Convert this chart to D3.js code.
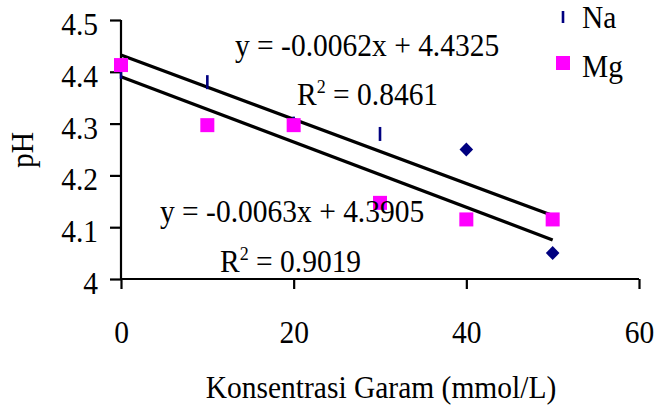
<!DOCTYPE html>
<html>
<head>
<meta charset="utf-8">
<script src="https://cdn.jsdelivr.net/npm/d3@7"></script>
<style>
  html, body { margin: 0; padding: 0; background: #fff; }
  svg { display: block; font-family: "Liberation Serif", "Times New Roman", serif; }
</style>
</head>
<body>
<svg id="chart" width="656" height="410"></svg>
<script>
// ---- data ----
const concentrations = [0, 10, 20, 30, 40, 50];
const naValues = [4.40, 4.38, 4.30, 4.28, 4.25, 4.05];
const mgValues = [4.413, 4.297, 4.297, 4.147, 4.115, 4.115];
const seriesNames = ["Na", "Mg"];
const xTicks = [0, 20, 40, 60];
const yTicks = [4.0, 4.1, 4.2, 4.3, 4.4, 4.5];
const yTickLabels = ["4", "4.1", "4.2", "4.3", "4.4", "4.5"];
const naTrend = { slope: -0.0062, intercept: 4.4325, r2: "0.8461" };
const mgTrend = { slope: -0.0063, intercept: 4.3905, r2: "0.9019" };
const trendRange = [0, 50];

// marker style per Na point (as rendered in the reference)
const naShape = ["bar", "bar", "bar", "bar", "diamond", "diamond"];

const FS = 29.5;
const SY = 1.08;           // vertical stretch of the reference's text
const FONT = '"Liberation Serif", "Times New Roman", serif';
const svg = d3.select("#chart");
const x = d3.scaleLinear().domain([0, 60]).range([121, 639]);
const y = d3.scaleLinear().domain([4, 4.5]).range([279, 20]);

function addText(parent, tx, ty, str, anchor, rot) {
  return parent.append("text")
    .attr("transform", `translate(${tx},${ty})${rot ? ` rotate(${rot})` : ""} scale(1,${SY})`)
    .attr("text-anchor", anchor || "start")
    .attr("font-size", FS).attr("font-family", FONT).attr("fill", "#000")
    .text(str);
}

// axes
const yAxis = d3.axisLeft(y).tickValues(yTicks).tickSize(11).tickPadding(12)
  .tickFormat((d, i) => yTickLabels[i]);
const gy = svg.append("g").attr("transform", `translate(${x(0)},0)`).call(yAxis);
const xAxis = d3.axisBottom(x).tickValues(xTicks).tickSize(10).tickFormat(d3.format("d"));
const gx = svg.append("g").attr("transform", `translate(0,${y(4)})`).call(xAxis);

[gx, gy].forEach(g => {
  g.attr("font-family", FONT);
  g.select(".domain").attr("stroke", "#000").attr("stroke-width", 2.2);
  g.selectAll(".tick line").attr("stroke", "#000").attr("stroke-width", 2.2);
  g.selectAll(".tick text").attr("fill", "#000").attr("font-size", FS).attr("font-family", FONT);
});
gy.select(".domain").attr("d", `M0,${y(4)}V${y(4.5)}`);
gy.selectAll(".tick text").attr("dy", null)
  .attr("transform", `translate(0,14.5) scale(1,${SY})`).attr("y", 0);
gx.select(".domain").attr("d", `M${x(0)},0H${x(60)}`);
gx.selectAll(".tick text").attr("dy", null)
  .attr("transform", `translate(0,64) scale(1,${SY})`).attr("y", 0);

// axis titles
addText(svg, (x(0) + x(60)) / 2 + 1, 398, "Konsentrasi Garam (mmol/L)", "middle");
addText(svg, 33, 150, "pH", "middle", -90);

// trend lines
[naTrend, mgTrend].forEach(t => {
  svg.append("line")
    .attr("x1", x(trendRange[0])).attr("y1", y(t.intercept + t.slope * trendRange[0]))
    .attr("x2", x(trendRange[1])).attr("y2", y(t.intercept + t.slope * trendRange[1]))
    .attr("stroke", "#000").attr("stroke-width", 3.2);
});

// markers
const NAVY = "#000080", MAG = "#ff00ff";
function drawNa(g, cx, cy, shape) {
  if (shape === "bar") {
    g.append("rect").attr("x", cx - 1.3).attr("y", cy - 7).attr("width", 2.6).attr("height", 14).attr("fill", NAVY);
  } else {
    g.append("path").attr("d", `M${cx},${cy - 7}L${cx + 6.8},${cy}L${cx},${cy + 7}L${cx - 6.8},${cy}Z`).attr("fill", NAVY);
  }
}
const gm = svg.append("g");
concentrations.forEach((c, i) => drawNa(gm, x(c), y(naValues[i]), naShape[i]));
gm.selectAll("rect.mg").data(concentrations).join("rect").attr("class", "mg")
  .attr("x", d => x(d) - 7).attr("y", (d, i) => y(mgValues[i]) - 7)
  .attr("width", 14).attr("height", 14).attr("fill", MAG);

// trend equations
function eq(t, xe, ye, xr, yr) {
  addText(svg, xe, ye, `y = ${t.slope.toFixed(4)}x + ${t.intercept.toFixed(4)}`);
  const tr = addText(svg, xr, yr, "");
  tr.append("tspan").text("R");
  tr.append("tspan").attr("font-size", 18).attr("dy", -11).text("2");
  tr.append("tspan").attr("dy", 11).text(` = ${t.r2}`);
}
eq(naTrend, 235, 56, 297, 105);
eq(mgTrend, 160, 222, 220, 272);

// legend
const lg = svg.append("g");
seriesNames.forEach((n, i) => {
  const ly = [17, 63][i];
  if (i === 0) lg.append("rect").attr("x", 563 - 1.3).attr("y", ly - 6).attr("width", 2.6).attr("height", 12).attr("fill", NAVY);
  else lg.append("rect").attr("x", 556).attr("y", ly - 7).attr("width", 14).attr("height", 14).attr("fill", MAG);
  addText(lg, 582, [28, 77][i], n);
});
</script>
</body>
</html>
